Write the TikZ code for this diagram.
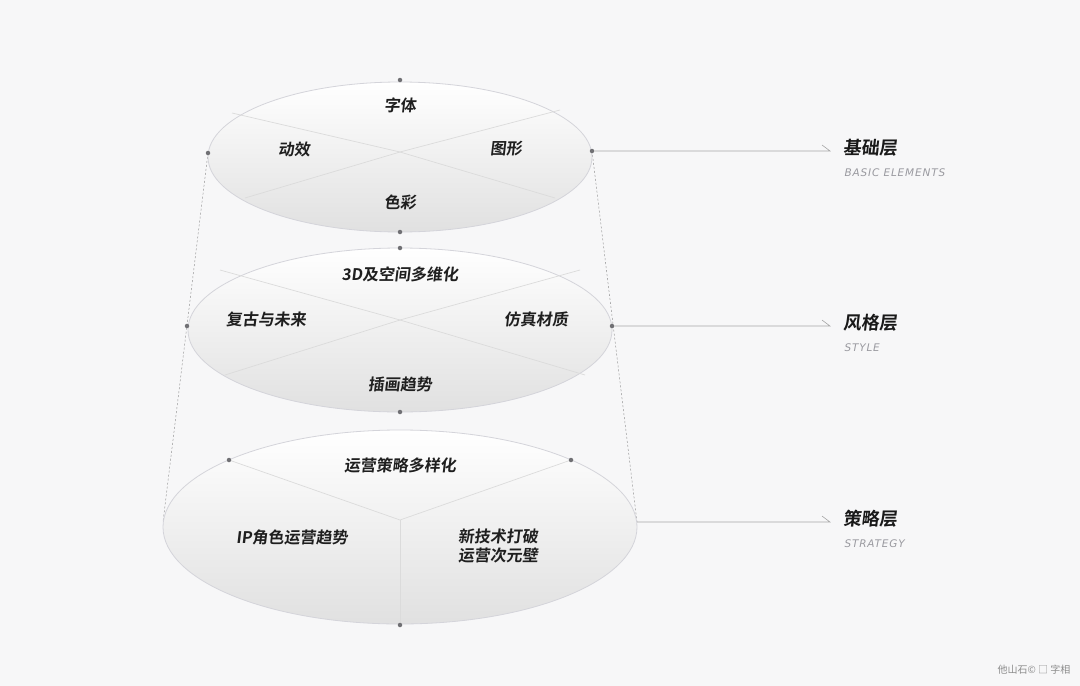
\documentclass[tikz,border=0pt]{standalone}
\usepackage{fontspec}
\setmainfont{Noto Sans CJK SC}
\newfontfamily\cjkb[FakeSlant=0.12]{Noto Sans CJK SC Bold}
\newfontfamily\latinit[LetterSpace=8]{DejaVu Sans}
\definecolor{bg}{HTML}{F7F7F8}
\definecolor{edge}{HTML}{D4D4DA}
\definecolor{dotc}{HTML}{707074}
\definecolor{sub}{HTML}{9A9AA0}
\begin{document}
\begin{tikzpicture}[x=1pt,y=-1pt,
  disc/.style={draw=edge,line width=0.8pt,top color=white,bottom color=black!12},
  divd/.style={draw=black!14,line width=0.7pt},
  lab/.style={font=\cjkb\fontsize{16}{18}\selectfont,text=black!88,align=center},
  dotn/.style={circle,fill=dotc,inner sep=0pt,minimum size=4.5pt},
  conn/.style={draw=black!35,line width=0.6pt},
  guide/.style={draw=black!40,line width=0.5pt,dashed,dash pattern=on 2pt off 2pt},
  title/.style={font=\cjkb\fontsize{18}{20}\selectfont,text=black!90,anchor=west},
  subt/.style={font=\latinit\itshape\fontsize{10.5}{12}\selectfont,text=sub,anchor=west}]
\fill[bg] (0,0) rectangle (1080,686);
\useasboundingbox (0,0) rectangle (1080,686);
\coordinate (l1) at (208,153); \coordinate (r1) at (592,151);
\coordinate (l3) at (163,522); \coordinate (r3) at (637,522);
\draw[guide] (l1) -- (l3);
\draw[guide] (r1) -- (r3);
% disc 3
\draw[disc] (400,527) ellipse [x radius=237,y radius=97];
\coordinate (c3) at (400,520);
\coordinate (a3) at (229,460); \coordinate (b3) at (571,460); \coordinate (d3) at (400,625);
\draw[divd] (a3) -- (c3) -- (b3); \draw[divd] (c3) -- (d3);
% disc 2
\draw[disc] (400,330) ellipse [x radius=212,y radius=82];
\coordinate (c2) at (400,320);
\draw[divd] (225,375) -- (c2) -- (580,270);
\draw[divd] (220,270) -- (c2) -- (585,375);
% disc 1
\draw[disc] (400,157) ellipse [x radius=192,y radius=75];
\coordinate (c1) at (400,152);
\draw[divd] (245,198) -- (c1) -- (560,110);
\draw[divd] (232,113) -- (c1) -- (555,198);
% dots
\node[dotn] (t1) at (400,80) {}; \node[dotn] (dl1) at (l1) {}; \node[dotn] (dr1) at (r1) {}; \node[dotn] (b1) at (400,232) {};
\node[dotn] (t2) at (400,248) {}; \node[dotn] (dl2) at (187,326) {}; \node[dotn] (dr2) at (612,326) {}; \node[dotn] (b2) at (400,412) {};
\node[dotn] (da3) at (a3) {}; \node[dotn] (db3) at (b3) {}; \node[dotn] (dd3) at (d3) {};
% labels
\node[lab] (n1) at (400,105) {字体};
\node[lab] (n2) at (294,149) {动效};
\node[lab] (n3) at (506,149) {图形};
\node[lab] (n4) at (400,202) {色彩};
\node[lab] (n5) at (400,274) {3D及空间多维化};
\node[lab] (n6) at (266,319) {复古与未来};
\node[lab] (n7) at (536,319) {仿真材质};
\node[lab] (n8) at (400,384) {插画趋势};
\node[lab] (n9) at (400,465) {运营策略多样化};
\node[lab] (n10) at (292,537) {IP角色运营趋势};
\node[lab,font=\cjkb\fontsize{16}{19}\selectfont] (n11) at (498,546) {新技术打破\\运营次元壁};
% connectors
\coordinate (e1) at (830,151); \coordinate (e2) at (830,326); \coordinate (e3) at (830,522);
\draw[conn] (dr1) -- (e1) -- ++(-8,-6);
\draw[conn] (dr2) -- (e2) -- ++(-8,-6);
\draw[conn] (r3) -- (e3) -- ++(-8,-6);
\node[title] (h1) at (840,148) {基础层};
\node[subt] (s1) at (841,173) {BASIC ELEMENTS};
\node[title] (h2) at (840,323) {风格层};
\node[subt] (s2) at (841,348) {STYLE};
\node[title] (h3) at (840,519) {策略层};
\node[subt] (s3) at (841,544) {STRATEGY};
\node[anchor=east,font=\fontsize{10}{12}\selectfont,text=black!45] (wm) at (1074,670) {他山石© □ 字相};
\end{tikzpicture}
\end{document}
